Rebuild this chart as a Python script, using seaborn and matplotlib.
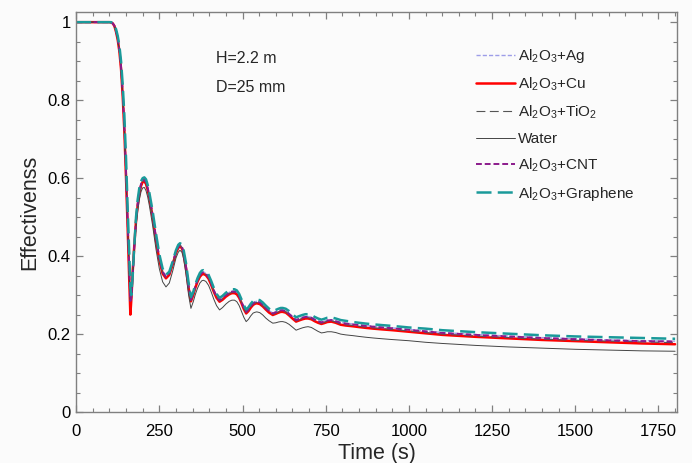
import numpy as np
import pandas as pd
import matplotlib
matplotlib.use("Agg")
import matplotlib.pyplot as plt
import seaborn as sns
from matplotlib.ticker import MultipleLocator

# ---- data ----
time_s = [0, 50, 100, 105, 110, 115, 120, 125, 130, 135,
          140, 145, 150, 155, 160, 163, 166, 170, 175, 180,
          185, 190, 195, 200, 205, 210, 215, 220, 230, 240,
          250, 260, 270, 280, 290, 300, 307, 312, 318, 323,
          330, 338, 345, 352, 358, 365, 372, 378, 383, 390,
          398, 406, 414, 422, 431, 440, 450, 460, 468, 476,
          483, 490, 497, 504, 511, 518, 525, 532, 538, 543,
          552, 561, 570, 580, 591, 600, 608, 615, 621, 630,
          640, 650, 661, 670, 680, 689, 697, 707, 717, 727,
          737, 745, 755, 767, 780, 795, 810, 832, 850, 870,
          893, 920, 950, 1000, 1050, 1100, 1200, 1300, 1400, 1500,
          1600, 1700, 1800]

ag = [1.000, 1.000, 1.000, 0.999, 0.997, 0.991, 0.978, 0.959, 0.930, 0.888,
      0.822, 0.735, 0.620, 0.490, 0.360, 0.290, 0.295, 0.350, 0.425, 0.490,
      0.535, 0.565, 0.585, 0.594, 0.597, 0.591, 0.576, 0.556, 0.507, 0.449,
      0.397, 0.361, 0.348, 0.357, 0.383, 0.412, 0.425, 0.429, 0.425, 0.410,
      0.376, 0.324, 0.289, 0.305, 0.323, 0.340, 0.352, 0.358, 0.359, 0.356,
      0.347, 0.331, 0.313, 0.298, 0.288, 0.293, 0.301, 0.307, 0.310, 0.310,
      0.307, 0.298, 0.284, 0.269, 0.258, 0.264, 0.273, 0.280, 0.283, 0.284,
      0.282, 0.276, 0.268, 0.260, 0.254, 0.257, 0.260, 0.262, 0.262, 0.260,
      0.253, 0.245, 0.237, 0.240, 0.243, 0.245, 0.245, 0.243, 0.238, 0.234,
      0.231, 0.233, 0.236, 0.237, 0.234, 0.230, 0.228, 0.226, 0.224, 0.222,
      0.220, 0.218, 0.216, 0.212, 0.208, 0.204, 0.199, 0.195, 0.191, 0.188,
      0.185, 0.183, 0.182]

cu = [1.000, 1.000, 1.000, 0.999, 0.997, 0.990, 0.975, 0.955, 0.925, 0.880,
      0.810, 0.720, 0.600, 0.470, 0.330, 0.250, 0.290, 0.360, 0.430, 0.490,
      0.530, 0.560, 0.580, 0.590, 0.592, 0.585, 0.570, 0.550, 0.500, 0.440,
      0.390, 0.355, 0.343, 0.352, 0.378, 0.408, 0.421, 0.425, 0.420, 0.405,
      0.370, 0.318, 0.284, 0.300, 0.318, 0.335, 0.347, 0.353, 0.354, 0.351,
      0.342, 0.326, 0.308, 0.293, 0.283, 0.288, 0.296, 0.302, 0.305, 0.305,
      0.302, 0.293, 0.279, 0.264, 0.253, 0.259, 0.268, 0.275, 0.278, 0.279,
      0.277, 0.271, 0.263, 0.255, 0.249, 0.252, 0.255, 0.257, 0.257, 0.255,
      0.248, 0.240, 0.232, 0.235, 0.238, 0.240, 0.240, 0.238, 0.233, 0.229,
      0.226, 0.228, 0.231, 0.232, 0.229, 0.224, 0.222, 0.220, 0.218, 0.216,
      0.214, 0.212, 0.210, 0.206, 0.202, 0.198, 0.193, 0.189, 0.185, 0.182,
      0.179, 0.176, 0.174]

tio2 = [1.000, 1.000, 1.000, 0.999, 0.997, 0.990, 0.976, 0.956, 0.927, 0.884,
        0.815, 0.727, 0.610, 0.480, 0.345, 0.280, 0.292, 0.350, 0.425, 0.488,
        0.532, 0.562, 0.582, 0.591, 0.594, 0.587, 0.572, 0.552, 0.503, 0.444,
        0.393, 0.357, 0.345, 0.354, 0.380, 0.410, 0.423, 0.427, 0.422, 0.407,
        0.372, 0.320, 0.286, 0.302, 0.320, 0.337, 0.349, 0.355, 0.356, 0.353,
        0.344, 0.328, 0.310, 0.295, 0.285, 0.290, 0.298, 0.304, 0.307, 0.307,
        0.304, 0.295, 0.281, 0.266, 0.255, 0.261, 0.270, 0.277, 0.280, 0.281,
        0.279, 0.273, 0.265, 0.257, 0.251, 0.254, 0.257, 0.259, 0.259, 0.257,
        0.250, 0.242, 0.234, 0.237, 0.240, 0.242, 0.242, 0.240, 0.235, 0.231,
        0.228, 0.230, 0.233, 0.234, 0.231, 0.226, 0.224, 0.222, 0.220, 0.218,
        0.216, 0.214, 0.212, 0.208, 0.204, 0.200, 0.195, 0.191, 0.187, 0.184,
        0.182, 0.180, 0.178]

water = [1.000, 1.000, 1.000, 0.999, 0.997, 0.990, 0.975, 0.955, 0.925, 0.880,
         0.810, 0.720, 0.600, 0.470, 0.340, 0.285, 0.290, 0.345, 0.415, 0.475,
         0.515, 0.545, 0.565, 0.575, 0.576, 0.568, 0.552, 0.530, 0.478, 0.418,
         0.368, 0.334, 0.321, 0.331, 0.361, 0.395, 0.410, 0.415, 0.410, 0.393,
         0.355, 0.300, 0.266, 0.283, 0.301, 0.318, 0.331, 0.337, 0.338, 0.335,
         0.325, 0.308, 0.289, 0.273, 0.262, 0.268, 0.277, 0.284, 0.287, 0.287,
         0.283, 0.273, 0.258, 0.243, 0.232, 0.238, 0.247, 0.254, 0.256, 0.257,
         0.255, 0.249, 0.241, 0.234, 0.228, 0.229, 0.231, 0.232, 0.232, 0.230,
         0.225, 0.218, 0.210, 0.213, 0.216, 0.218, 0.219, 0.217, 0.212, 0.207,
         0.203, 0.204, 0.206, 0.206, 0.204, 0.200, 0.198, 0.196, 0.194, 0.192,
         0.190, 0.188, 0.186, 0.183, 0.179, 0.176, 0.171, 0.167, 0.164, 0.161,
         0.159, 0.157, 0.156]

cnt = [1.000, 1.000, 1.000, 0.999, 0.997, 0.991, 0.978, 0.958, 0.929, 0.886,
       0.820, 0.732, 0.615, 0.485, 0.355, 0.285, 0.293, 0.350, 0.425, 0.490,
       0.535, 0.565, 0.585, 0.594, 0.596, 0.590, 0.575, 0.555, 0.506, 0.448,
       0.396, 0.360, 0.347, 0.356, 0.382, 0.411, 0.424, 0.428, 0.424, 0.409,
       0.375, 0.323, 0.288, 0.304, 0.322, 0.339, 0.351, 0.357, 0.358, 0.355,
       0.346, 0.330, 0.312, 0.297, 0.287, 0.292, 0.300, 0.306, 0.309, 0.309,
       0.306, 0.297, 0.283, 0.268, 0.257, 0.263, 0.272, 0.279, 0.282, 0.283,
       0.281, 0.275, 0.267, 0.259, 0.253, 0.256, 0.259, 0.261, 0.261, 0.259,
       0.252, 0.244, 0.236, 0.239, 0.242, 0.244, 0.244, 0.242, 0.237, 0.233,
       0.230, 0.232, 0.235, 0.236, 0.233, 0.229, 0.227, 0.225, 0.223, 0.221,
       0.219, 0.217, 0.215, 0.211, 0.207, 0.203, 0.198, 0.194, 0.190, 0.187,
       0.184, 0.182, 0.181]

graphene = [1.000, 1.000, 1.000, 1.000, 0.998, 0.993, 0.982, 0.965, 0.940, 0.900,
            0.840, 0.760, 0.650, 0.520, 0.400, 0.320, 0.300, 0.350, 0.430, 0.500,
            0.545, 0.575, 0.592, 0.600, 0.602, 0.597, 0.583, 0.563, 0.515, 0.458,
            0.405, 0.368, 0.352, 0.360, 0.386, 0.415, 0.429, 0.433, 0.430, 0.416,
            0.383, 0.332, 0.295, 0.308, 0.327, 0.344, 0.357, 0.363, 0.364, 0.361,
            0.352, 0.336, 0.318, 0.303, 0.293, 0.298, 0.306, 0.312, 0.315, 0.315,
            0.312, 0.303, 0.289, 0.274, 0.263, 0.269, 0.278, 0.285, 0.288, 0.289,
            0.287, 0.281, 0.273, 0.265, 0.259, 0.262, 0.265, 0.267, 0.267, 0.265,
            0.259, 0.251, 0.243, 0.246, 0.249, 0.251, 0.251, 0.249, 0.244, 0.240,
            0.237, 0.239, 0.242, 0.243, 0.240, 0.236, 0.234, 0.231, 0.229, 0.227,
            0.225, 0.223, 0.221, 0.217, 0.214, 0.210, 0.205, 0.201, 0.197, 0.194,
            0.192, 0.190, 0.188]

labels = [r'Al$_2$O$_3$+Ag', r'Al$_2$O$_3$+Cu', r'Al$_2$O$_3$+TiO$_2$',
          'Water', r'Al$_2$O$_3$+CNT', r'Al$_2$O$_3$+Graphene']
series = [ag, cu, tio2, water, cnt, graphene]

styles = [
    dict(color='#9d9de8', lw=1.0, ls=(0, (3, 1.5))),
    dict(color='#ff0000', lw=1.8, ls='-'),
    dict(color='#555555', lw=0.8, ls=(0, (8, 4))),
    dict(color='#444444', lw=0.7, ls='-'),
    dict(color='#8b1a8b', lw=1.4, ls=(0, (3, 1.5))),
    dict(color='#1a9a9a', lw=1.8, ls=(0, (6, 2.5))),
]

sns.set_theme(style='ticks')
plt.rcParams['font.family'] = ['Liberation Sans', 'DejaVu Sans']
plt.rcParams['mathtext.default'] = 'regular'

bg = '#fbfbfb'
fig = plt.figure(figsize=(6.92, 4.63), dpi=100, facecolor=bg)
ax = fig.add_axes([0.110, 0.110, 0.868, 0.864])
ax.set_facecolor(bg)

for lab, vals, st in zip(labels, series, styles):
    df = pd.DataFrame({'t': time_s, 'e': vals})
    sns.lineplot(data=df, x='t', y='e', ax=ax, label=lab, color=st['color'],
                 linewidth=st['lw'], linestyle=st['ls'], estimator=None)

ax.set_xlim(0, 1805)
ax.set_ylim(0, 1.026)
ax.xaxis.set_major_locator(MultipleLocator(250))
ax.xaxis.set_minor_locator(MultipleLocator(50))
ax.yaxis.set_minor_locator(MultipleLocator(0.05))
ax.set_yticks([0, 0.2, 0.4, 0.6, 0.8, 1.0])
ax.set_yticklabels(['0', '0.2', '0.4', '0.6', '0.8', '1'])

spine_c = '#808080'
for s in ax.spines.values():
    s.set_visible(True)
    s.set_color(spine_c)
    s.set_linewidth(1.0)
ax.tick_params(which='both', direction='in', top=True, right=True,
               color=spine_c, labelsize=12, labelcolor='black')
ax.tick_params(which='major', length=5, width=0.9)
ax.tick_params(which='minor', length=2.8, width=0.8)
ax.tick_params(axis='x', which='major', pad=8.5)
ax.tick_params(axis='y', which='major', pad=4)

ax.set_xlabel('Time (s)', fontsize=15.5, labelpad=3)
ax.set_ylabel('Effectivenss', fontsize=15.5, labelpad=5)

ax.text((216 - 76) / 601, (412 - 58) / 400, 'H=2.2 m', transform=ax.transAxes,
        fontsize=11.5, va='center', ha='left')
ax.text((216 - 76) / 601, (412 - 87) / 400, 'D=25 mm', transform=ax.transAxes,
        fontsize=11.5, va='center', ha='left')

leg = ax.legend(loc='upper left', bbox_to_anchor=((476 - 76) / 601, (412 - 47) / 400),
                frameon=False, fontsize=11, handlelength=2.55, handletextpad=0.2,
                labelspacing=0.7, borderpad=0, borderaxespad=0)

fig.savefig('out.png', dpi=100, facecolor=bg)
